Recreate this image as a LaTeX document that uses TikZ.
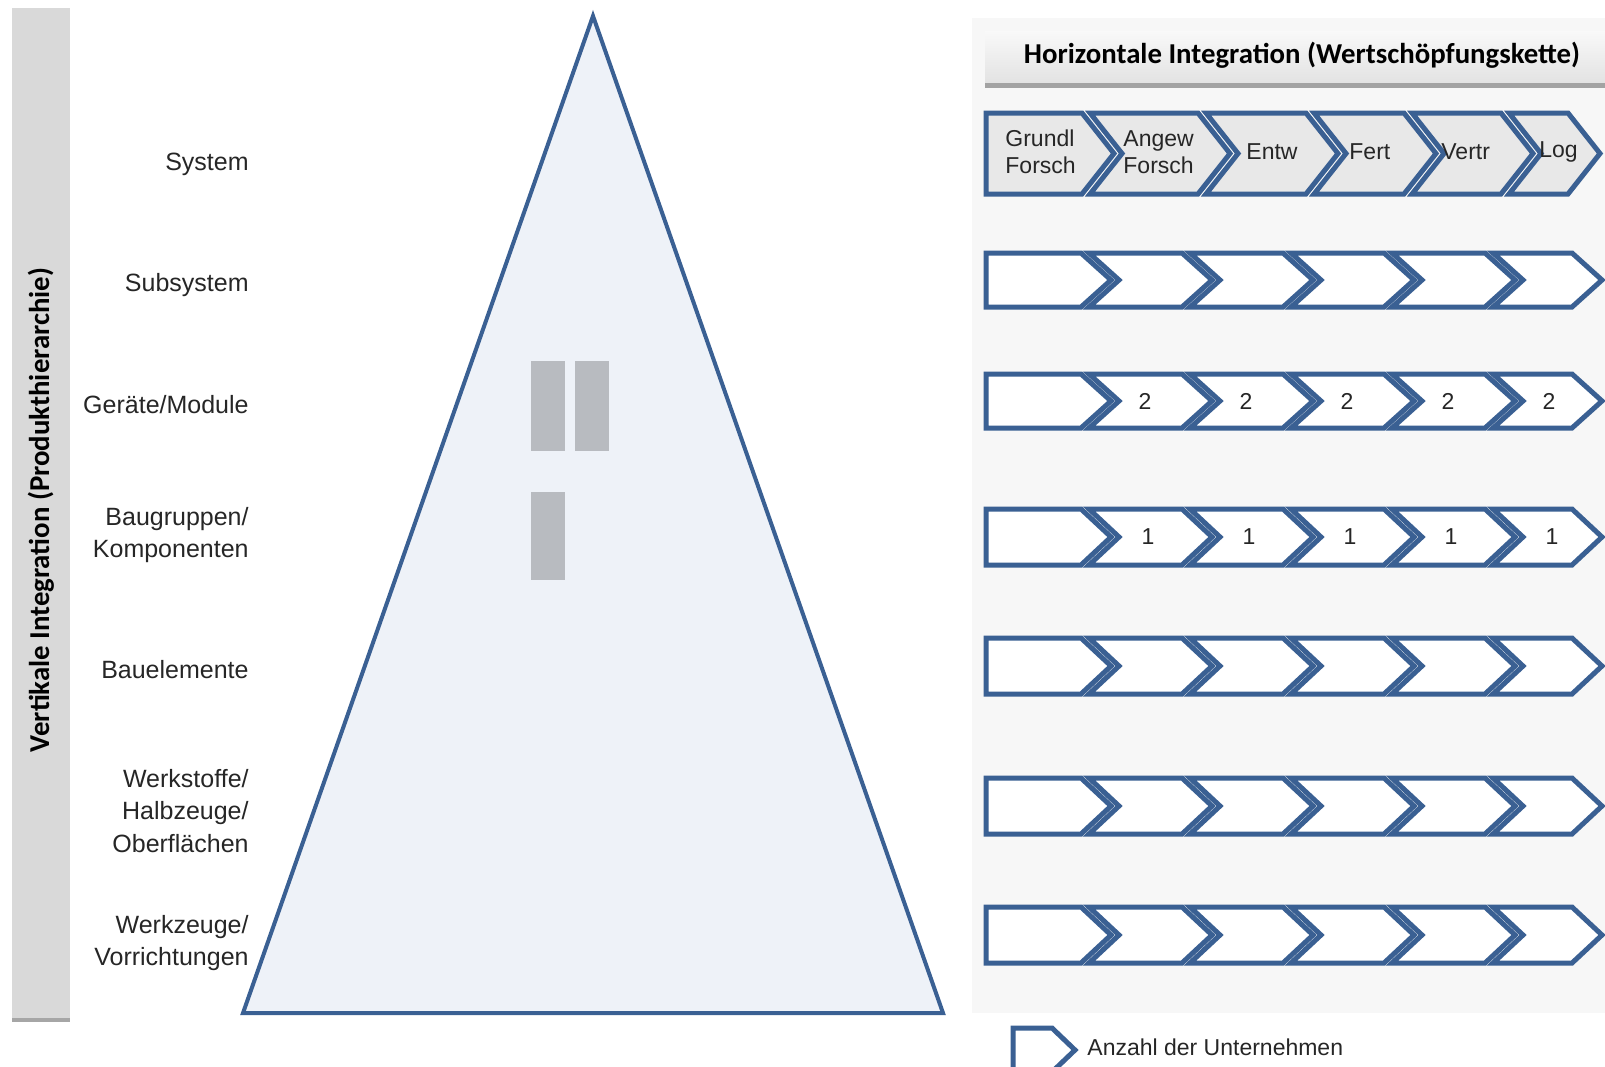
\documentclass[tikz,border=0pt]{standalone}
\usepackage{fontspec}
\setmainfont{Liberation Sans}
\newfontfamily\calfont{Carlito}
\usetikzlibrary{shadows}
\definecolor{chevblue}{HTML}{3A6093}
\definecolor{trifill}{HTML}{EEF2F8}
\definecolor{blockgray}{HTML}{B8BBC0}
\definecolor{bargray}{HTML}{D9D9D9}
\definecolor{panelgray}{HTML}{F7F7F7}
\definecolor{txtgray}{HTML}{262626}
\tikzset{
  chev/.style={draw=chevblue, line width=2.5pt, line join=miter},
  lvl/.style={anchor=east, align=right, inner sep=0pt, text=txtgray,
    font=\fontsize{12.5}{16.25}\selectfont},
  stage/.style={align=left, inner sep=0pt, text=txtgray,
    font=\fontsize{11.5}{13.3}\selectfont},
  head/.style={inner sep=0pt, font=\calfont\bfseries\fontsize{14.4}{16}\selectfont},
}
% one chevron: previous tip (0 = first), tip, top, bottom, depth, fill
\newcommand\chevseg[6]{%
  \pgfmathsetmacro\ym{(#3+#4)/2}
  \pgfmathsetmacro\xr{#2-#5}
  \ifnum#1=0
    \draw[chev, fill=#6] (986,#3) -- (\xr,#3) -- (#2,\ym) -- (\xr,#4)
      -- (986,#4) -- cycle;
  \else
    \pgfmathsetmacro\xl{#1-#5+8}
    \draw[chev, fill=#6] (\xl,#3) -- (\xr,#3) -- (#2,\ym) -- (\xr,#4)
      -- (\xl,#4) -- ({\xl+#5},\ym) -- cycle;
  \fi}

\begin{document}
\begin{tikzpicture}[x=0.5pt, y=-0.5pt]
  \useasboundingbox (0,0) rectangle (1605,1066);
  % left bar
  \fill[bargray, drop shadow={shadow xshift=0pt, shadow yshift=-2pt, opacity=.7}]
    (12,8) rectangle (70,1018);
  \node[head, rotate=90] (vert) at (41,510) {Vertikale Integration (Produkthierarchie)};

  % pyramid
  \draw[chevblue, fill=trifill, line width=2pt, line join=miter]
    (593,16) -- (943,1013) -- (243,1013) -- cycle;
  \fill[blockgray] (531,361) rectangle (565,451);
  \fill[blockgray] (575,361) rectangle (609,451);
  \fill[blockgray] (531,492) rectangle (565,580);

  % levels
  \node[lvl] (sys) at (249,164) {System};
  \node[lvl] (sub) at (249,285) {Subsystem};
  \node[lvl] (mod) at (249,405) {Geräte/Module};
  \node[lvl] (comp) at (249,535) {Baugruppen/\\Komponenten};
  \node[lvl] (elem) at (249,670) {Bauelemente};
  \node[lvl] (mat) at (249,811) {Werkstoffe/\\Halbzeuge/\\Oberflächen};
  \node[lvl] (tool) at (249,943) {Werkzeuge/\\Vorrichtungen};

  % value chain panel
  \fill[panelgray] (972,18) rectangle (1605,1013);
  \shade[top color=gray!5, bottom color=gray!22,
    drop shadow={shadow xshift=0pt, shadow yshift=-3pt, opacity=.7}]
    (985,31) rectangle (1605,82);
  \node[head] (horz) at (1302,55) {Horizontale Integration (Wertschöpfungskette)};

  \foreach \prev/\tip in {0/1114, 1114/1230, 1230/1338, 1338/1436, 1436/1533, 1533/1600}
    {\chevseg{\prev}{\tip}{113}{194}{32}{gray!18}}
  \foreach \ya/\yb in {253/307, 374/428, 509/565, 638/694, 778/834, 907/963}
    \foreach \prev/\tip in {0/1111, 1111/1212, 1212/1313, 1313/1414, 1414/1515, 1515/1602}
      {\chevseg{\prev}{\tip}{\ya}{\yb}{30}{white}}

  % stage names
  \node[stage, anchor=west] (grund) at (1005,152) {Grundl\\Forsch};
  \node[stage, anchor=west] (angew) at (1123,152) {Angew\\Forsch};
  \node[stage, anchor=west] (entw) at (1246,152) {Entw};
  \node[stage, anchor=west] (fert) at (1349,152) {Fert};
  \node[stage, anchor=west] (vertr) at (1441,152) {Vertr};
  \node[stage, anchor=west] (log) at (1539,152) {Log};

  % number of companies
  \foreach \i in {1,...,5} {
    \node[stage] (two-\i) at ({1145+101*(\i-1)},401) {2};
    \node[stage] (one-\i) at ({1148+101*(\i-1)},537) {1};
  }

  % legend
  \draw[chev, fill=white] (1013,1028) -- (1052,1028) -- (1075,1050) -- (1052,1072)
    -- (1013,1072) -- cycle;
  \node[stage, anchor=west] (leg) at (1087,1047) {Anzahl der Unternehmen};
\end{tikzpicture}
\end{document}
